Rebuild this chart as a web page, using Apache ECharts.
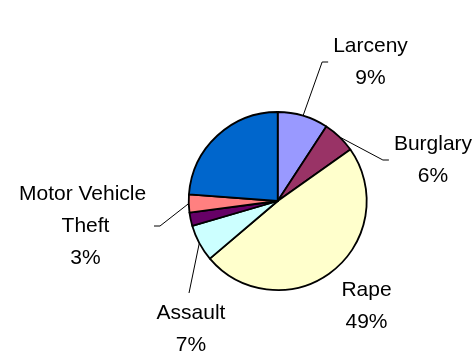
<!DOCTYPE html>
<html>
<head>
<meta charset="utf-8">
<script src="https://cdn.jsdelivr.net/npm/echarts@6/dist/echarts.min.js"></script>
<style>
html,body{margin:0;padding:0;background:#ffffff;}
#chart{width:474px;height:358px;}
</style>
</head>
<body>
<div id="chart"></div>
<script>
// ---- data ----
const categories = ['Larceny', 'Burglary', 'Rape', 'Assault', 'Homicide', 'Motor Vehicle Theft', 'Robbery'];
const shares = [9.2, 6.0, 48.6, 6.7, 2.4, 3.3, 23.8];
const showLabel = [true, true, true, true, false, true, false];
const sliceColors = ['#9999FF', '#993366', '#FFFFCC', '#CCFFFF', '#660066', '#FF8080', '#0066CC'];

// ---- label placement (text block centre and the side the leader line attaches to) ----
const labelPlacement = {
  'Larceny': { x: 370.5, y: 62, side: 'left' },
  'Burglary': { x: 433, y: 160, side: 'left' },
  'Rape': { x: 366.5, y: 306.5, side: null },
  'Assault': { x: 191, y: 329, side: 'top' },
  'Motor Vehicle Theft': { x: 85.5, y: 226, side: 'right' }
};

const pieData = categories.map(function (name, i) {
  const item = {
    name: name,
    value: shares[i],
    itemStyle: { color: sliceColors[i] }
  };
  if (!showLabel[i]) {
    item.label = { show: false };
    item.labelLine = { show: false };
  } else if (labelPlacement[name] && !labelPlacement[name].side) {
    item.labelLine = { show: false };
  }
  if (name === 'Motor Vehicle Theft') {
    item.label = { width: 135, overflow: 'break' };
  }
  return item;
});

const chart = echarts.init(document.getElementById('chart'), null, { renderer: 'canvas' });
chart.setOption({
  backgroundColor: '#ffffff',
  animation: false,
  series: [{
    type: 'pie',
    center: [277.7, 201],
    radius: 89,
    startAngle: 90,
    clockwise: true,
    avoidLabelOverlap: false,
    data: pieData,
    itemStyle: { borderColor: '#000000', borderWidth: 1.8 },
    emphasis: { disabled: true },
    label: {
      show: true,
      position: 'outside',
      color: '#000000',
      fontFamily: '"Liberation Sans", Arial, sans-serif',
      fontSize: 21,
      lineHeight: 32,
      formatter: function (p) {
        return p.name + '\n' + Math.round(p.percent) + '%';
      }
    },
    labelLine: {
      show: true,
      length: 20,
      length2: 6,
      lineStyle: { color: '#000000', width: 1 }
    },
    labelLayout: function (p) {
      const pl = labelPlacement[categories[p.dataIndex]];
      if (!pl) return {};
      const w = p.labelRect.width, h = p.labelRect.height;
      const out = { x: pl.x, y: pl.y, align: 'center', verticalAlign: 'middle' };
      if (pl.side && p.labelLinePoints) {
        const start = p.labelLinePoints[0];
        let end, elbow;
        if (pl.side === 'left') {
          end = [pl.x - w / 2 - 5, pl.y];
          elbow = [end[0] - 6, pl.y];
        } else if (pl.side === 'right') {
          end = [pl.x + w / 2 + 1, pl.y];
          elbow = [end[0] + 6, pl.y];
        } else {
          end = [pl.x - 2, pl.y - h / 2 - 4];
          elbow = end;
        }
        out.labelLinePoints = [start, elbow, end];
      }
      return out;
    }
  }]
});
</script>
</body>
</html>
